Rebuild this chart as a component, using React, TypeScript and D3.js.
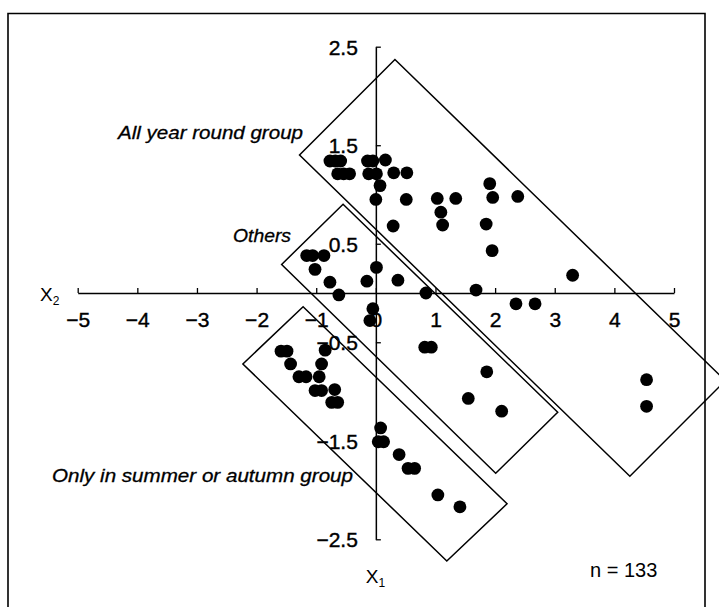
import React, { useRef, useEffect } from 'react';
import * as d3 from 'd3';

// scores on the two axes (X2 horizontal, X1 vertical)
const x2Values = [
  -0.77, -0.68, -0.59, -0.14, -0.05, 0.16, -0.64, -0.54, -0.44, -0.12, 0.01, 0.3, 0.52,
  0.07, 0.0, 0.51, 1.03, 1.34, 1.91, 1.96, 2.38, 1.09, 0.29, 1.12, 1.85, 1.95, 3.3, 1.68,
  2.35, 2.67, 4.54, 4.54,
  -1.16, -1.06, -0.87, -1.02, 0.01, -0.77, -0.15, 0.37, -0.62, 0.84, -0.05, -0.1, 0.82,
  0.93, 1.86, 1.55, 2.11,
  -1.59, -1.49, -0.85, -1.43, -0.91, -1.29, -1.17, -0.95, -1.02, -0.91, -0.69, -0.74,
  -0.64, 0.08, 0.04, 0.13, 0.39, 0.54, 0.65, 1.04, 1.41,
];
const x1Values = [
  1.34, 1.34, 1.34, 1.34, 1.34, 1.35, 1.21, 1.21, 1.21, 1.21, 1.21, 1.22, 1.22,
  1.09, 0.95, 0.95, 0.96, 0.96, 1.11, 0.97, 0.98, 0.82, 0.68, 0.69, 0.7, 0.43, 0.18, 0.03,
  -0.11, -0.11, -0.88, -1.15,
  0.38, 0.38, 0.38, 0.24, 0.26, 0.11, 0.12, 0.13, -0.02, 0.0, -0.16, -0.28, -0.55,
  -0.55, -0.8, -1.07, -1.2,
  -0.59, -0.59, -0.58, -0.72, -0.72, -0.85, -0.85, -0.85, -0.99, -0.99, -0.98, -1.11,
  -1.11, -1.37, -1.51, -1.51, -1.64, -1.78, -1.78, -2.05, -2.17,
];

const x2Ticks = [-5, -4, -3, -2, -1, 0, 1, 2, 3, 4, 5];
const x1Ticks = [2.5, 1.5, 0.5, -0.5, -1.5, -2.5];

// group outlines, corners in axis units [X2, X1]
const allYearBox = [[0.32, 2.37], [5.86, -0.89], [4.26, -1.86], [-1.28, 1.4]];
const othersBox = [[-0.55, 0.9], [3.05, -1.21], [2.01, -1.83], [-1.58, 0.29]];
const summerBox = [[-1.22, -0.14], [2.2, -2.14], [1.19, -2.72], [-2.23, -0.72]];

const W = 719;
const H = 607;
const FONT = '"Liberation Sans", Arial, sans-serif';
const NARROW = '"Liberation Sans Narrow", "Liberation Sans", Arial, sans-serif';

const App = () => {
  const svgRef = useRef(null);

  useEffect(() => {
    const svg = d3.select(svgRef.current);
    svg.selectAll('*').remove();

    const x = d3.scaleLinear().domain([-5, 5]).range([77.7, 674]);
    const y = d3.scaleLinear().domain([-2.5, 2.5]).range([539.3, 46.7]);
    const x0 = x(0);
    const y0 = y(0);

    // frame
    svg.append('path')
      .attr('d', `M8,${H + 5} L8,13.5 L705,13.5 L705,${H + 5}`)
      .attr('fill', 'none')
      .attr('stroke', '#000')
      .attr('stroke-width', 1.6);

    // horizontal axis, ticks pointing up, labels below
    const gx = svg.append('g')
      .attr('transform', `translate(0,${y0})`)
      .call(d3.axisTop(x).tickValues(x2Ticks).tickSize(5).tickSizeOuter(0).tickFormat(d3.format('d')));
    gx.select('.domain').attr('stroke-width', 1.5);
    gx.selectAll('line').attr('stroke-width', 1.3);
    gx.selectAll('text')
      .attr('y', 34)
      .attr('dy', null)
      .attr('font-size', 21)
      .attr('font-family', NARROW)
      .attr('stroke', '#000')
      .attr('stroke-width', 0.4)
      .attr('fill', '#000');

    // vertical axis, ticks pointing right, labels left
    const gy = svg.append('g')
      .attr('transform', `translate(${x0},0)`)
      .call(d3.axisRight(y).tickValues(x1Ticks).tickSize(5).tickSizeOuter(0).tickFormat(d3.format('.1f')));
    gy.select('.domain').attr('stroke-width', 1.5);
    gy.selectAll('line').attr('stroke-width', 1.3);
    gy.selectAll('text')
      .attr('x', -18)
      .attr('text-anchor', 'end')
      .attr('dy', '0.36em')
      .attr('font-size', 21)
      .attr('font-family', NARROW)
      .attr('stroke', '#000')
      .attr('stroke-width', 0.4)
      .attr('fill', '#000');

    // axis names
    const xName = svg.append('text')
      .attr('x', 40).attr('y', y0 + 8)
      .attr('font-family', FONT).attr('font-size', 19);
    xName.append('tspan').text('X');
    xName.append('tspan').attr('font-size', 12).attr('dy', 4).text('2');

    const yName = svg.append('text')
      .attr('x', x0 - 10).attr('y', 583)
      .attr('font-family', FONT).attr('font-size', 19);
    yName.append('tspan').text('X');
    yName.append('tspan').attr('font-size', 12).attr('dy', 4).text('1');

    // group outlines
    const outline = d3.line().x((d) => x(d[0])).y((d) => y(d[1])).curve(d3.curveLinearClosed);
    svg.selectAll('.box')
      .data([allYearBox, othersBox, summerBox])
      .enter()
      .append('path')
      .attr('class', 'box')
      .attr('d', (d) => outline(d))
      .attr('fill', 'none')
      .attr('stroke', '#000')
      .attr('stroke-width', 1.5);

    // points
    svg.selectAll('.dot')
      .data(x2Values.map((v, i) => [v, x1Values[i]]))
      .enter()
      .append('circle')
      .attr('class', 'dot')
      .attr('cx', (d) => x(d[0]))
      .attr('cy', (d) => y(d[1]))
      .attr('r', 6.4)
      .attr('fill', '#000');

    // group labels
    const labels = [
      { text: 'All year round group', x: 118, y: 139, len: 185 },
      { text: 'Others', x: 233, y: 242, len: 58 },
      { text: 'Only in summer or autumn group', x: 52, y: 482, len: 301 },
    ];
    svg.selectAll('.grp')
      .data(labels)
      .enter()
      .append('text')
      .attr('class', 'grp')
      .attr('x', (d) => d.x)
      .attr('y', (d) => d.y)
      .attr('textLength', (d) => d.len)
      .attr('lengthAdjust', 'spacingAndGlyphs')
      .attr('font-family', FONT)
      .attr('font-style', 'italic')
      .attr('font-size', 18)
      .attr('stroke', '#000')
      .attr('stroke-width', 0.3)
      .text((d) => d.text);

    svg.append('text')
      .attr('x', 590).attr('y', 577)
      .attr('font-family', FONT).attr('font-size', 20)
      .text('n = 133');
  }, []);

  return (
    <svg ref={svgRef} width={W} height={H} style={{ position: 'absolute', left: 0, top: 0, background: '#fff' }}></svg>
  );
};

export default App;
